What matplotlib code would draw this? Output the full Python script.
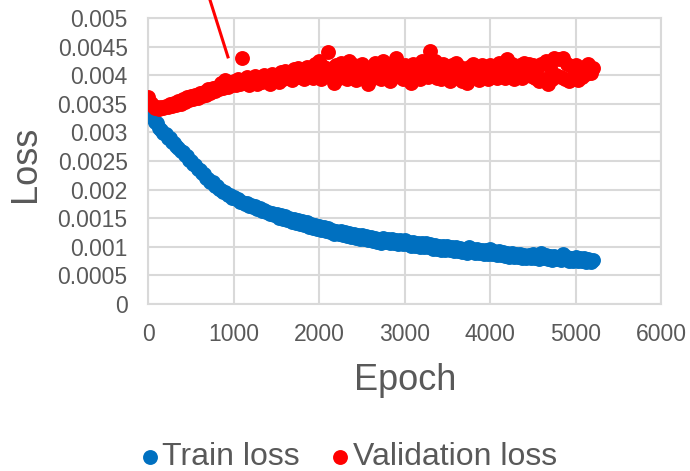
import numpy as np
import matplotlib.pyplot as plt

plt.rcParams['font.family'] = ['Liberation Sans', 'DejaVu Sans']

# loss logged every 25 epochs
epochs = np.arange(0, 5225, 25)

train_loss = [
    0.00340, 0.00331, 0.00326, 0.00318, 0.00316, 0.00308, 0.00305, 0.00299, 0.00297, 0.00291,
    0.00290, 0.00283, 0.00282, 0.00276, 0.00273, 0.00268, 0.00266, 0.00260, 0.00258, 0.00252,
    0.00250, 0.00244, 0.00243, 0.00236, 0.00234, 0.00229, 0.00227, 0.00221, 0.00219, 0.00214,
    0.00213, 0.00207, 0.00206, 0.00201, 0.00200, 0.00195, 0.00195, 0.00190, 0.00191, 0.00186,
    0.00187, 0.00183, 0.00184, 0.00179, 0.00178, 0.00175, 0.00177, 0.00172, 0.00173, 0.00169,
    0.00171, 0.00166, 0.00167, 0.00163, 0.00165, 0.00161, 0.00161, 0.00157, 0.00159, 0.00155,
    0.00158, 0.00151, 0.00156, 0.00149, 0.00153, 0.00146, 0.00151, 0.00144, 0.00149, 0.00142,
    0.00147, 0.00140, 0.00145, 0.00138, 0.00143, 0.00135, 0.00140, 0.00133, 0.00138, 0.00131,
    0.00136, 0.00129, 0.00134, 0.00127, 0.00132, 0.00125, 0.00130, 0.00123, 0.00128, 0.00122,
    0.00128, 0.00121, 0.00125, 0.00118, 0.00124, 0.00117, 0.00123, 0.00115, 0.00120, 0.00114,
    0.00120, 0.00113, 0.00118, 0.00111, 0.00117, 0.00110, 0.00115, 0.00108, 0.00114, 0.00107,
    0.00116, 0.00109, 0.00114, 0.00107, 0.00113, 0.00106, 0.00112, 0.00105, 0.00111, 0.00104,
    0.00112, 0.00104, 0.00109, 0.00102, 0.00108, 0.00101, 0.00107, 0.00099, 0.00106, 0.00099,
    0.00106, 0.00099, 0.00104, 0.00097, 0.00103, 0.00096, 0.00102, 0.00095, 0.00101, 0.00094,
    0.00102, 0.00095, 0.00100, 0.00093, 0.00099, 0.00092, 0.00098, 0.00091, 0.00097, 0.00090,
    0.00099, 0.00092, 0.00097, 0.00090, 0.00096, 0.00089, 0.00095, 0.00088, 0.00094, 0.00087,
    0.00096, 0.00088, 0.00093, 0.00086, 0.00092, 0.00085, 0.00091, 0.00084, 0.00090, 0.00083,
    0.00090, 0.00083, 0.00088, 0.00082, 0.00087, 0.00081, 0.00086, 0.00080, 0.00086, 0.00080,
    0.00087, 0.00080, 0.00085, 0.00079, 0.00089, 0.00081, 0.00085, 0.00078, 0.00084, 0.00077,
    0.00084, 0.00078, 0.00083, 0.00077, 0.00087, 0.00078, 0.00082, 0.00076, 0.00081, 0.00075,
    0.00083, 0.00076, 0.00081, 0.00075, 0.00080, 0.00074, 0.00079, 0.00073, 0.00077,
]

val_loss = [
    0.00362, 0.00352, 0.00346, 0.00342, 0.00344, 0.00341, 0.00345, 0.00343, 0.00347, 0.00344,
    0.00349, 0.00346, 0.00352, 0.00348, 0.00355, 0.00350, 0.00358, 0.00353, 0.00361, 0.00356,
    0.00363, 0.00358, 0.00365, 0.00360, 0.00368, 0.00363, 0.00371, 0.00366, 0.00375, 0.00369,
    0.00378, 0.00372, 0.00380, 0.00376, 0.00386, 0.00378, 0.00392, 0.00380, 0.00388, 0.00382,
    0.00390, 0.00383, 0.00393, 0.00385, 0.00430, 0.00387, 0.00396, 0.00383, 0.00392, 0.00386,
    0.00398, 0.00385, 0.00394, 0.00388, 0.00400, 0.00390, 0.00397, 0.00385, 0.00402, 0.00392,
    0.00398, 0.00388, 0.00405, 0.00393, 0.00408, 0.00395, 0.00403, 0.00392, 0.00410, 0.00396,
    0.00412, 0.00397, 0.00406, 0.00393, 0.00414, 0.00400, 0.00408, 0.00395, 0.00420, 0.00402,
    0.00425, 0.00393, 0.00415, 0.00398, 0.00440, 0.00400, 0.00412, 0.00387, 0.00418, 0.00395,
    0.00422, 0.00400, 0.00415, 0.00393, 0.00425, 0.00399, 0.00418, 0.00391, 0.00412, 0.00395,
    0.00420, 0.00398, 0.00410, 0.00385, 0.00415, 0.00395, 0.00422, 0.00400, 0.00418, 0.00393,
    0.00425, 0.00402, 0.00414, 0.00390, 0.00418, 0.00397, 0.00430, 0.00399, 0.00416, 0.00394,
    0.00418, 0.00397, 0.00412, 0.00387, 0.00420, 0.00399, 0.00415, 0.00393, 0.00425, 0.00400,
    0.00420, 0.00397, 0.00442, 0.00405, 0.00425, 0.00395, 0.00418, 0.00393, 0.00420, 0.00398,
    0.00415, 0.00390, 0.00418, 0.00395, 0.00422, 0.00397, 0.00414, 0.00390, 0.00410, 0.00387,
    0.00415, 0.00395, 0.00420, 0.00398, 0.00412, 0.00391, 0.00418, 0.00397, 0.00414, 0.00393,
    0.00418, 0.00397, 0.00415, 0.00395, 0.00422, 0.00400, 0.00418, 0.00395, 0.00428, 0.00401,
    0.00420, 0.00393, 0.00415, 0.00397, 0.00418, 0.00395, 0.00422, 0.00400, 0.00420, 0.00398,
    0.00418, 0.00395, 0.00412, 0.00390, 0.00420, 0.00393, 0.00425, 0.00384, 0.00415, 0.00393,
    0.00430, 0.00400, 0.00428, 0.00397, 0.00430, 0.00393, 0.00420, 0.00390, 0.00416, 0.00395,
    0.00418, 0.00392, 0.00410, 0.00396, 0.00415, 0.00402, 0.00420, 0.00404, 0.00412,
]

x_ticks = [0, 1000, 2000, 3000, 4000, 5000, 6000]
y_ticks = [0, 0.0005, 0.001, 0.0015, 0.002, 0.0025, 0.003, 0.0035, 0.004, 0.0045, 0.005]
y_tick_labels = ['0', '0.0005', '0.001', '0.0015', '0.002', '0.0025',
                 '0.003', '0.0035', '0.004', '0.0045', '0.005']

text_color = '#595959'
grid_color = '#d9d9d9'

fig = plt.figure(figsize=(6.9, 4.71), dpi=100)
ax = fig.add_axes([0.2152, 0.3546, 0.7428, 0.6072])

ax.scatter(epochs, train_loss, s=115, color='#0070c0', linewidths=0, label='Train loss', zorder=3)
ax.scatter(epochs, val_loss, s=115, color='#ff0000', linewidths=0, label='Validation loss', zorder=4)

ax.set_xlim(0, 6000)
ax.set_ylim(0, 0.005)
ax.set_xticks(x_ticks)
ax.set_yticks(y_ticks)
ax.set_yticklabels(y_tick_labels)
ax.tick_params(length=0, labelsize=16.5, labelcolor=text_color)
ax.tick_params(axis='x', pad=14)
ax.tick_params(axis='y', pad=15)
ax.grid(True, color=grid_color, linewidth=1.5, zorder=0)
ax.set_axisbelow(True)
for sp in ax.spines.values():
    sp.set_color(grid_color)
    sp.set_linewidth(1.5)

ax.set_xlabel('Epoch', fontsize=26, color=text_color)
ax.set_ylabel('Loss', fontsize=26, color=text_color)
ax.xaxis.set_label_coords(0.5, -0.205)
ax.yaxis.set_label_coords(-0.205, 0.49)

# pointer line coming in from above the plot
ax.plot([683, 930], [0.00549, 0.00432], color='#ff0000', linewidth=2.2,
        clip_on=False, zorder=5)

fig.legend(loc='lower center', bbox_to_anchor=(0.505, -0.063), ncol=2, frameon=False,
           fontsize=23, labelcolor=text_color, handlelength=0.6, handletextpad=0.1,
           columnspacing=0.95, markerscale=1.0)

fig.savefig('out.png', dpi=100)
